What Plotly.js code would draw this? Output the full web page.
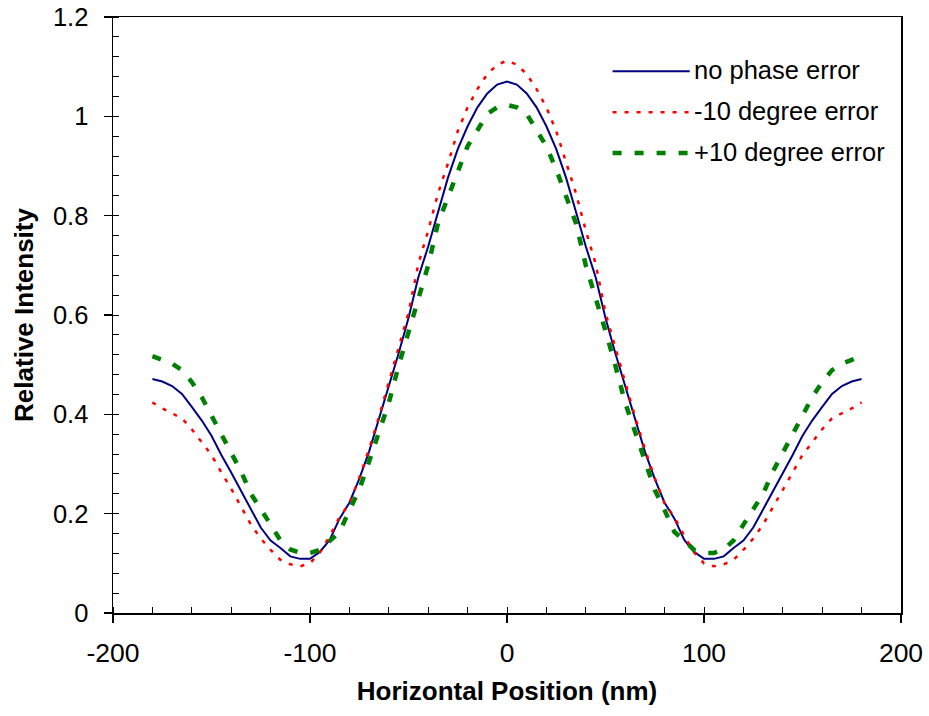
<!DOCTYPE html>
<html>
<head>
<meta charset="utf-8">
<script src="https://cdn.plot.ly/plotly-3.0.1.min.js"></script>
<style>html,body{margin:0;padding:0;background:#fff;}#chart{width:929px;height:716px;}</style>
</head>
<body>
<div id="chart"></div>
<script>
// Horizontal position (nm), -180 .. 180 in 5 nm steps
const xPos = [-180,-175,-170,-165,-160,-155,-150,-145,-140,-135,-130,-125,-120,-115,-110,-105,-100,-95,-90,-85,-80,-75,-70,-65,-60,-55,-50,-45,-40,-35,-30,-25,-20,-15,-10,-5,0,
  5,10,15,20,25,30,35,40,45,50,55,60,65,70,75,80,85,90,95,100,105,110,115,120,125,130,135,140,145,150,155,160,165,170,175,180];

const noPhaseError = [0.471,0.466,0.457,0.441,0.415,0.388,0.357,0.318,0.283,0.247,0.208,0.172,0.146,0.131,0.114,0.109,0.109,0.123,0.147,0.190,0.222,0.270,0.325,0.390,0.457,0.523,0.594,0.676,0.738,0.808,0.876,0.934,0.980,1.018,1.046,1.064,1.070,
  1.064,1.046,1.018,0.980,0.934,0.876,0.808,0.738,0.676,0.594,0.523,0.457,0.390,0.325,0.270,0.222,0.190,0.147,0.123,0.109,0.109,0.114,0.131,0.146,0.172,0.208,0.247,0.283,0.318,0.357,0.388,0.415,0.441,0.457,0.466,0.471];

const minus10Error = [0.424,0.412,0.402,0.392,0.370,0.345,0.318,0.283,0.250,0.214,0.178,0.150,0.127,0.107,0.098,0.094,0.100,0.122,0.155,0.193,0.220,0.272,0.330,0.395,0.463,0.533,0.604,0.703,0.770,0.845,0.905,0.970,1.018,1.055,1.085,1.104,1.112,
  1.104,1.085,1.055,1.018,0.970,0.905,0.845,0.770,0.703,0.604,0.533,0.463,0.395,0.330,0.272,0.220,0.193,0.155,0.122,0.100,0.094,0.098,0.107,0.127,0.150,0.178,0.214,0.250,0.283,0.318,0.345,0.370,0.392,0.402,0.412,0.424];

const plus10Error = [0.517,0.510,0.502,0.489,0.465,0.435,0.398,0.358,0.322,0.285,0.240,0.207,0.178,0.146,0.128,0.121,0.121,0.127,0.146,0.163,0.207,0.248,0.305,0.365,0.423,0.498,0.568,0.637,0.700,0.785,0.838,0.893,0.940,0.972,1.005,1.018,1.023,
  1.018,1.005,0.972,0.940,0.893,0.838,0.785,0.700,0.637,0.568,0.498,0.423,0.365,0.305,0.248,0.207,0.163,0.146,0.127,0.121,0.121,0.128,0.146,0.178,0.207,0.240,0.285,0.322,0.358,0.398,0.435,0.465,0.489,0.502,0.510,0.517];

const seriesNames = ['no phase error', '-10 degree error', '+10 degree error'];
const xTickVals = [-200, -100, 0, 100, 200];
const xTickText = ['-200', '-100', '0', '100', '200'];
const yTickVals = [0, 0.2, 0.4, 0.6, 0.8, 1, 1.2];
const yTickText = ['0', '0.2', '0.4', '0.6', '0.8', '1', '1.2'];
const xTitle = 'Horizontal Position (nm)';
const yTitle = 'Relative Intensity';

const FONT = 'Liberation Sans, Arial, sans-serif';
const styles = [
  {color: '#000080', width: 2, dash: 'solid'},
  {color: '#ff0000', width: 2.5, dash: '4px,8px'},
  {color: '#008000', width: 4.5, dash: '9px,13px'}
];
const seriesY = [noPhaseError, minus10Error, plus10Error];

const traces = seriesY.map((ys, i) => ({
  x: xPos, y: ys, type: 'scatter', mode: 'lines', name: seriesNames[i],
  line: {color: styles[i].color, width: styles[i].width, dash: styles[i].dash},
  showlegend: false, hoverinfo: 'skip'
}));

// Custom legend (long line samples like the reference)
const legY = [0.909, 0.840, 0.772];
const shapes = [];
const annotations = [];
seriesNames.forEach((n, i) => {
  shapes.push({type: 'line', xref: 'paper', yref: 'paper', x0: 0.634, x1: 0.732, y0: legY[i], y1: legY[i],
    line: {color: styles[i].color, width: styles[i].width, dash: styles[i].dash}});
  annotations.push({xref: 'paper', yref: 'paper', x: 0.735, y: legY[i] + 0.002, xanchor: 'left', yanchor: 'middle',
    text: n, showarrow: false, font: {family: FONT, size: 25.5, color: '#000'}});
});

const axisCommon = {
  showgrid: false, zeroline: false, showline: true, linecolor: '#000', linewidth: 1.5, mirror: true,
  ticks: 'outside', ticklen: 8, tickwidth: 1.2, tickcolor: '#000'
};

const layout = {
  width: 929, height: 716,
  margin: {l: 113, r: 28, t: 17, b: 103},
  paper_bgcolor: '#fff', plot_bgcolor: '#fff',
  showlegend: false,
  xaxis: Object.assign({}, axisCommon, {
    range: [-200, 200], tickmode: 'array', tickvals: xTickVals, ticktext: xTickText,
    tickfont: {family: FONT, size: 26.5, color: '#000'},
    ticklabelstandoff: 8,
    minor: {ticks: 'inside', ticklen: 6, dtick: 20, tick0: 0, tickcolor: '#000', tickwidth: 1, showgrid: false},
    title: {text: xTitle, standoff: 14, font: {family: FONT, size: 26, color: '#000', weight: 'bold'}}
  }),
  yaxis: Object.assign({}, axisCommon, {
    range: [0, 1.2], tickmode: 'array', tickvals: yTickVals, ticktext: yTickText,
    tickfont: {family: FONT, size: 25.5, color: '#000'},
    ticklabelstandoff: 10,
    minor: {ticks: 'inside', ticklen: 6, dtick: 0.04, tick0: 0, tickcolor: '#000', tickwidth: 1, showgrid: false},
    title: {text: yTitle, standoff: 12, font: {family: FONT, size: 26, color: '#000', weight: 'bold'}}
  }),
  shapes: shapes,
  annotations: annotations
};

Plotly.newPlot('chart', traces, layout, {displayModeBar: false, staticPlot: true});
</script>
</body>
</html>
